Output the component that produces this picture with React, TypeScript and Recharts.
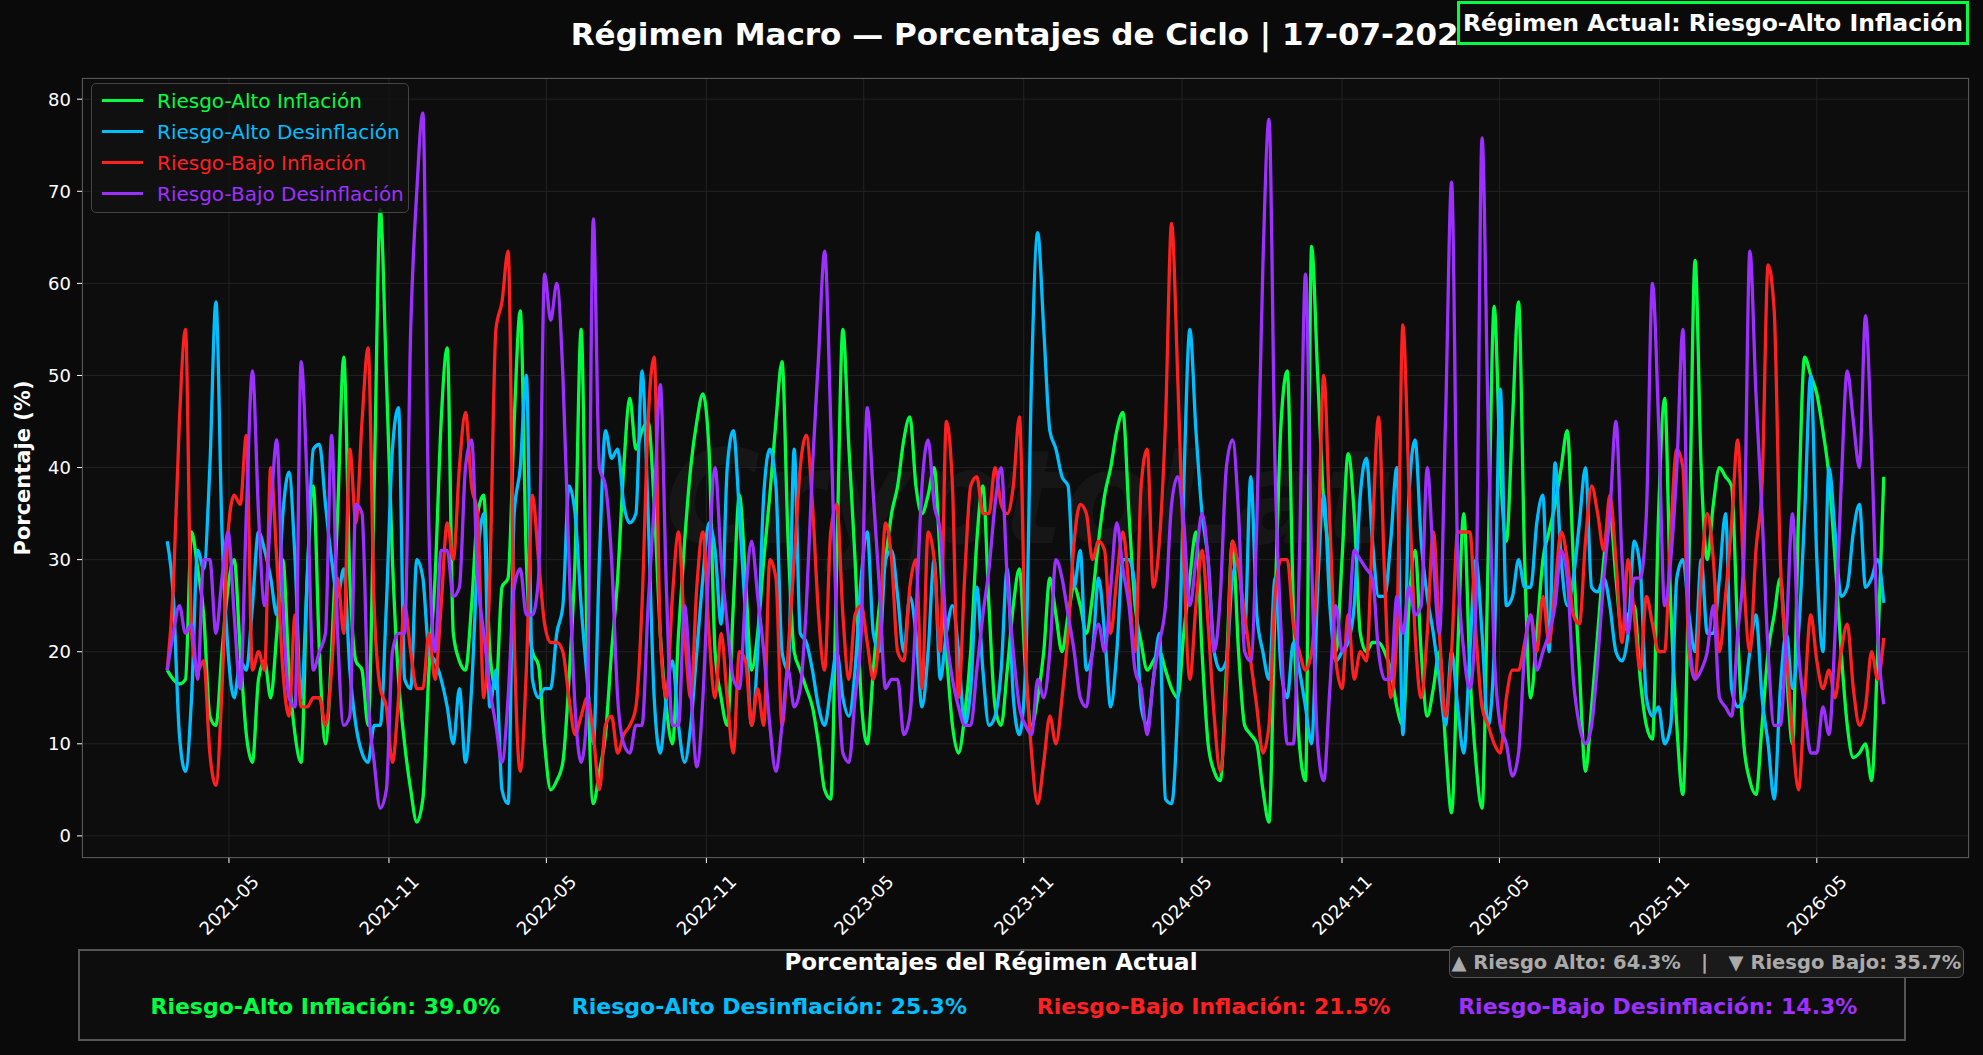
import React from "react";
import { LineChart, Line, XAxis, YAxis, CartesianGrid } from "recharts";

// semanas desde 2021-02-19 hasta 2026-07-17
const INICIO = Date.UTC(2021, 1, 19);
const SEMANA = 7 * 24 * 3600 * 1000;

const altoInflacion = [
  18, 17, 16.5, 17, 33, 29, 24, 13, 12, 20,
  27, 30, 20, 11, 8, 17, 19, 15, 22, 30,
  18, 11, 8, 28, 38, 20, 10, 20, 35, 52,
  28, 19, 18, 12, 38, 68, 50, 30, 17, 10,
  5, 1.5, 4, 18, 28, 45, 53, 22, 19, 18,
  25, 35, 37, 20, 16, 27, 28, 45, 57, 30,
  20, 18.5, 10, 5, 6, 8, 17, 30, 55, 20,
  3.5, 7, 11, 20, 28, 40, 47.5, 42, 44, 45,
  36, 22, 14, 10, 22, 32, 40, 45, 48, 42,
  20, 15, 12, 25, 37, 28, 18, 22, 30, 37,
  45, 51.5, 32, 20, 18, 16, 14, 10, 5, 4,
  30, 55, 42, 30, 15, 10, 18, 25, 30, 35,
  38, 43, 45.5, 38, 35, 37, 40, 30, 20, 12,
  9, 13, 20, 32, 38, 25, 14, 12, 18, 25,
  29, 18, 12, 15, 20, 28, 24, 20, 24, 27,
  25, 22, 26, 32, 37, 40, 44, 46, 35, 25,
  21, 18, 19, 20, 18, 16, 15, 22, 28, 33,
  20, 10, 7, 6, 18, 32, 20, 12, 11, 10,
  5, 1.5, 25, 45, 50.5, 25, 10, 6, 64, 50,
  36, 30, 20, 30, 41.5, 35, 22, 20, 21, 21,
  20, 18, 14, 12, 25, 31, 20, 13, 16, 20,
  10, 2.5, 20, 35, 18, 8, 3, 30, 57.5, 40,
  32, 45, 58, 30, 15, 22, 30, 33, 36, 40,
  44, 30, 18, 7, 14, 22, 30, 35, 28, 22,
  24, 25, 17, 12, 10.5, 35, 47.5, 25, 12, 4.5,
  30, 62.5, 40, 30, 36, 40, 39, 38, 22, 10,
  6, 4.5, 12, 20, 24, 28, 18, 10, 35, 52,
  50, 48, 44, 39, 30, 20, 12, 8.5, 9, 10,
  6, 20, 39,
];

const altoDesinflacion = [
  32, 26, 11, 7, 15, 31, 29, 40, 58, 33,
  20, 15, 19, 18, 25, 33, 31, 28, 24, 35,
  39.5, 30, 15, 28, 42, 42.5, 36, 30, 26, 29,
  18, 12, 9, 8, 12, 12, 25, 42, 46.5, 17,
  16, 30, 28, 20, 19, 17, 14, 10, 16, 8,
  16, 30, 35, 14, 18, 5, 3.5, 35, 40, 50,
  17, 15, 16, 16, 22, 25, 38, 35, 25, 17,
  10, 30, 44, 41, 42, 36, 34, 35, 50.5, 35,
  15, 9, 15, 19, 12, 8, 12, 20, 28, 34,
  31, 23, 40, 44, 35, 24, 12, 20, 37, 42,
  38, 20, 18, 42, 22, 21, 18, 14, 12, 16,
  20, 15, 13, 18, 28, 33, 22, 20, 30, 31,
  26, 20, 26, 22, 14, 20, 30, 17, 22, 25,
  20, 12, 16, 27, 18, 12, 13, 18, 29, 15,
  11, 18, 50, 65.5, 55, 44, 42, 39, 38, 27,
  31, 18, 20, 28, 22, 14, 20, 30, 30, 27,
  14, 12, 17, 22, 4, 3.5, 14, 38, 55, 44,
  35, 30, 20, 18, 19, 28, 30, 22, 39, 24,
  20, 17, 28, 18, 15, 21, 18, 14, 10, 27,
  37, 25, 19, 20, 21, 25, 37, 41, 32, 26,
  26, 32, 40, 11, 37, 43, 32, 26, 22, 17,
  12, 20, 14, 9, 20, 30, 22, 12, 20, 48.5,
  25, 26, 30, 27, 27, 34, 37, 20, 40.5, 30,
  25, 28, 34, 40, 27, 26.5, 28, 25, 20, 19,
  22, 32, 29, 15, 13, 14, 10, 12, 28, 30,
  24, 20, 30, 22, 22, 28, 35, 16, 14, 15,
  20, 24, 15, 10, 4, 16, 22, 16, 22, 35,
  50, 30, 20, 40, 33, 26, 27, 33, 36, 27,
  28, 30, 25.3,
];

const bajoInflacion = [
  18, 27, 45, 55, 22, 18, 19, 9, 5.5, 16,
  33, 37, 36, 43.5, 18, 20, 18, 40, 30, 18,
  13, 24, 14, 14, 15, 15, 12, 18, 28, 22,
  42, 34, 45, 53, 25, 16, 14, 8, 15, 25,
  20, 16, 16, 22, 17, 25, 34, 30, 40, 46,
  38, 35, 15, 28, 55, 58, 63.5, 22, 7, 18,
  37, 30, 23, 21, 21, 20, 15, 11, 13, 15,
  11, 5, 12, 13, 9, 11, 12, 14, 25, 45,
  52, 22, 15, 26, 33, 22, 15, 27, 33, 22,
  15, 22, 15, 9, 20, 19, 12, 16, 12, 30,
  28, 12, 20, 30, 40, 43.5, 36, 24, 18, 33,
  36, 24, 17, 24, 25, 21, 17, 22, 34, 30,
  20, 19, 27, 30, 16, 33, 30, 20, 45, 38,
  15, 28, 38, 39, 35, 35, 40, 36, 35, 38,
  45.5, 20, 9, 3.5, 8, 13, 10, 15, 22, 32,
  36, 35, 30, 32, 31, 22, 28, 33, 27, 20,
  38, 42, 27, 32, 45, 66.5, 50, 30, 17, 25,
  31, 23, 13, 7, 16, 32, 29, 24, 19, 14,
  9, 12, 26, 30, 30, 23, 20, 18, 20, 30,
  50, 34, 19, 16, 24, 17, 20, 19, 33, 45.5,
  28, 15, 22, 55.5, 38, 22, 15, 22, 33, 22,
  13, 20, 33, 33, 33, 22, 14, 12, 10, 9,
  15, 18, 18, 21, 24, 20, 26, 21, 27, 33,
  30, 24, 23, 32, 38, 35, 31, 37, 30, 21,
  30, 24, 18, 26, 23, 20, 20, 33, 42, 40,
  20, 17, 28, 35, 30, 20, 26, 34, 43, 28,
  20, 31, 38, 62, 57, 30, 20, 11, 5, 15,
  24, 19, 16, 18, 15, 20, 23, 16, 12, 14,
  20, 17, 21.5,
];

const bajoDesinflacion = [
  18, 22, 25, 22, 23, 17, 30, 30, 22, 28,
  33, 24, 16, 35, 50.5, 35, 25, 35, 43, 25,
  15, 14, 51.5, 38, 18, 20, 22, 43.5, 22, 12,
  13, 36, 35, 15, 8, 3, 5, 20, 22, 22,
  55, 70, 78.5, 33, 20, 31, 31, 26, 27, 40,
  43, 28, 22, 16, 12, 8, 15, 27, 29, 24,
  24, 28, 61, 56, 60, 50, 30, 14, 8, 14,
  67, 40, 38, 30, 15, 10, 9, 12, 12, 25,
  36, 49, 27, 12, 12, 25, 16, 7.5, 15, 30,
  40, 30, 23, 17, 16, 26, 32, 26, 20, 12,
  7, 12, 18, 14, 16, 25, 40, 52, 63.5, 45,
  22, 9, 8, 15, 22, 46.5, 37, 27, 16, 17,
  17, 11, 13, 24, 38, 43, 36, 33, 22, 17,
  14, 12, 12, 18, 24, 29, 36, 40, 28, 20,
  14, 12, 11, 17, 15, 20, 30, 28, 24, 20,
  15, 14, 20, 23, 20, 27, 34, 29, 25, 18,
  16, 11, 17, 21, 25, 36, 39, 34, 25, 30,
  35, 30, 20, 26, 40, 43, 35, 20, 19, 34,
  62, 77.8, 40, 22, 10, 10, 30, 61, 30, 10,
  6, 16, 25, 20, 22, 31, 30, 29, 28, 20,
  17, 17, 26, 22, 27, 24, 25, 40, 30, 22,
  45, 71, 30, 20, 16, 25, 75.8, 45, 20, 12,
  10, 6.5, 9, 20, 24, 18, 20, 22, 25, 31,
  28, 17, 12, 10, 12, 19, 28, 35, 45, 30,
  22, 28, 28, 35, 60, 45, 25, 30, 40, 55,
  22, 17, 18, 20, 25, 15, 14, 13, 22, 30,
  63.5, 48, 35, 20, 12, 12, 22, 35, 20, 14,
  9, 9, 14, 11, 22, 38, 50.5, 45, 40, 56.5,
  42, 22, 14.3,
];

const etiquetasX = [
  "2021-05", "2021-11", "2022-05", "2022-11", "2023-05", "2023-11",
  "2024-05", "2024-11", "2025-05", "2025-11", "2026-05",
];
const ticksY = [0, 10, 20, 30, 40, 50, 60, 70, 80];

const regimenes = [
  "Riesgo-Alto Inflación",
  "Riesgo-Alto Desinflación",
  "Riesgo-Bajo Inflación",
  "Riesgo-Bajo Desinflación",
];
const colores = ["#00ff41", "#00bfff", "#ff2020", "#9d30ff"];
const claves = ["ai", "ad", "bi", "bd"];
const actuales = [39.0, 25.3, 21.5, 14.3];

const data = altoInflacion.map((v, i) => ({
  t: INICIO + i * SEMANA,
  ai: v,
  ad: altoDesinflacion[i],
  bi: bajoInflacion[i],
  bd: bajoDesinflacion[i],
}));

const ticksX = etiquetasX.map((s) => {
  const [y, m] = s.split("-").map(Number);
  return Date.UTC(y, m - 1, 1);
});

const FONT = "'DejaVu Sans', sans-serif";

const fmtMes = (t: number) => {
  const d = new Date(t);
  return `${d.getUTCFullYear()}-${String(d.getUTCMonth() + 1).padStart(2, "0")}`;
};

const TickFecha = (props: any) => {
  const { x, y, payload } = props;
  return (
    <g transform={`translate(${x},${y + 40}) rotate(-45)`}>
      <text
        textAnchor="middle"
        dominantBaseline="central"
        fill="#ffffff"
        fontSize={18}
        fontFamily={FONT}
      >
        {fmtMes(payload.value)}
      </text>
    </g>
  );
};

// area del grafico (px)
const PL = 82;
const PT = 78;
const PW = 1887;
const PH = 780;

export default function App() {
  return (
    <div
      style={{
        position: "absolute",
        left: 0,
        top: 0,
        width: 1983,
        height: 1055,
        background: "#0a0a0a",
        fontFamily: FONT,
        overflow: "hidden",
      }}
    >
      {/* fondo del area */}
      <div
        style={{
          position: "absolute",
          left: PL,
          top: PT,
          width: PW,
          height: PH,
          background: "#0d0d0d",
        }}
      />
      {/* marca de agua */}
      <div
        style={{
          position: "absolute",
          left: PL,
          top: PT + 30,
          width: PW,
          height: PH,
          display: "flex",
          alignItems: "center",
          justifyContent: "center",
          fontSize: 130,
          fontStyle: "italic",
          fontWeight: "bold",
          color: "rgba(255,255,255,0.04)",
        }}
      >
        CryptoLat
      </div>

      <div style={{ position: "absolute", left: 0, top: 0 }}>
        <LineChart
          width={1983}
          height={1055}
          data={data}
          margin={{ top: PT, right: 14, left: 0, bottom: 117 }}
        >
          <CartesianGrid stroke="#222222" strokeWidth={1} />
          <XAxis
            dataKey="t"
            type="number"
            domain={[INICIO - 14 * SEMANA, INICIO + 296 * SEMANA]}
            ticks={ticksX}
            tick={<TickFecha />}
            tickSize={5}
            tickLine={{ stroke: "#ffffff" }}
            axisLine={false}
            height={80}
            allowDataOverflow
          />
          <YAxis
            domain={[-2.4, 82.3]}
            ticks={ticksY}
            width={PL}
            tickSize={5}
            tickMargin={6}
            tickLine={{ stroke: "#ffffff" }}
            axisLine={false}
            allowDataOverflow
            tick={{ fill: "#ffffff", fontSize: 18, fontFamily: FONT }}
          />
          {claves.map((k, i) => (
            <Line
              key={k}
              type="monotone"
              dataKey={k}
              name={regimenes[i]}
              stroke={colores[i]}
              strokeWidth={3.3}
              dot={false}
              activeDot={false}
              isAnimationActive={false}
            />
          ))}
        </LineChart>
      </div>

      {/* borde del area */}
      <div
        style={{
          position: "absolute",
          left: PL,
          top: PT,
          width: PW,
          height: PH,
          border: "1.5px solid #555555",
          boxSizing: "border-box",
          pointerEvents: "none",
        }}
      />

      {/* etiqueta eje Y */}
      <div
        style={{
          position: "absolute",
          left: 23,
          top: PT + PH / 2,
          transform: "translate(-50%, -50%) rotate(-90deg)",
          color: "#ffffff",
          fontWeight: "bold",
          fontSize: 21,
          whiteSpace: "nowrap",
        }}
      >
        Porcentaje (%)
      </div>

      {/* titulo */}
      <div
        style={{
          position: "absolute",
          left: PL + PW / 2,
          top: 34,
          transform: "translate(-50%, -50%)",
          color: "#ffffff",
          fontWeight: "bold",
          fontSize: 31,
          whiteSpace: "nowrap",
        }}
      >
        Régimen Macro — Porcentajes de Ciclo | 17-07-2026
      </div>

      {/* regimen actual */}
      <div
        style={{
          position: "absolute",
          left: 1457,
          top: 1,
          width: 512,
          height: 44,
          boxSizing: "border-box",
          border: "3px solid #00ff41",
          background: "#0a0a0a",
          color: "#ffffff",
          fontWeight: "bold",
          fontSize: 23.5,
          display: "flex",
          alignItems: "center",
          justifyContent: "center",
          whiteSpace: "nowrap",
        }}
      >
        Régimen Actual: Riesgo-Alto Inflación
      </div>

      {/* leyenda */}
      <div
        style={{
          position: "absolute",
          left: 91,
          top: 83,
          width: 318,
          height: 130,
          boxSizing: "border-box",
          border: "1.5px solid #444444",
          borderRadius: 5,
          background: "rgba(18,18,18,0.85)",
          padding: "1px 0 0 10px",
        }}
      >
        {regimenes.map((r, i) => (
          <div
            key={r}
            style={{
              display: "flex",
              alignItems: "center",
              height: 31,
              color: colores[i],
              fontSize: 20,
              whiteSpace: "nowrap",
            }}
          >
            <span
              style={{
                display: "inline-block",
                width: 41,
                height: 3.5,
                background: colores[i],
                marginRight: 14,
              }}
            />
            {r}
          </div>
        ))}
      </div>

      {/* panel inferior */}
      <div
        style={{
          position: "absolute",
          left: 78,
          top: 949,
          width: 1828,
          height: 92,
          boxSizing: "border-box",
          border: "2px solid #555555",
          background: "#0d0d0d",
        }}
      />
      <div
        style={{
          position: "absolute",
          left: 991,
          top: 962,
          transform: "translate(-50%, -50%)",
          color: "#ffffff",
          fontWeight: "bold",
          fontSize: 23,
          whiteSpace: "nowrap",
        }}
      >
        Porcentajes del Régimen Actual
      </div>
      {regimenes.map((r, i) => (
        <div
          key={r}
          style={{
            position: "absolute",
            left: 1983 * (0.164 + i * 0.224),
            top: 1006,
            transform: "translate(-50%, -50%)",
            color: colores[i],
            fontWeight: "bold",
            fontSize: 22,
            whiteSpace: "nowrap",
          }}
        >
          {r}: {actuales[i].toFixed(1)}%
        </div>
      ))}

      {/* resumen riesgo */}
      <div
        style={{
          position: "absolute",
          left: 1449,
          top: 946,
          width: 515,
          height: 32,
          boxSizing: "border-box",
          border: "1.5px solid #555555",
          borderRadius: 6,
          background: "#1a1a1a",
          color: "#aaaaaa",
          fontWeight: "bold",
          fontSize: 19.5,
          display: "flex",
          alignItems: "center",
          justifyContent: "center",
          whiteSpace: "pre",
        }}
      >
        {"▲ Riesgo Alto: 64.3%   |   ▼ Riesgo Bajo: 35.7%"}
      </div>
    </div>
  );
}
